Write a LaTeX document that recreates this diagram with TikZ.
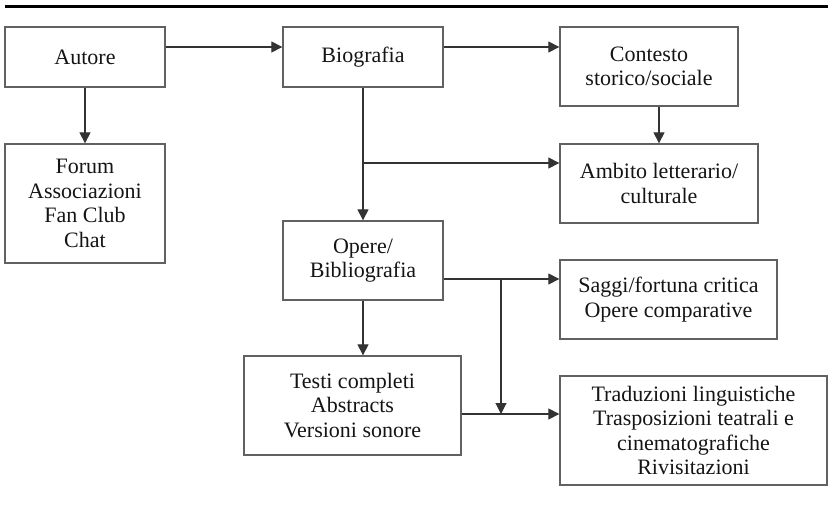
\documentclass[tikz,border=0pt]{standalone}
\usepackage{fontspec}
\setmainfont{Liberation Serif}
\usetikzlibrary{arrows.meta}
\begin{document}
\begin{tikzpicture}[x=1pt,y=-1pt,
  box/.style={draw=black!62,line width=1.3pt,inner sep=0pt,align=center,
    font=\fontsize{22}{24.5}\selectfont,text=black!92},
  arr/.style={draw=black!80,line width=1.1pt,-{Triangle[length=11pt,width=11pt]}},
  ln/.style={draw=black!80,line width=1.1pt}]
\useasboundingbox (0,0) rectangle (828,508);
\draw[line width=3pt] (5,7) -- (828,7);
\node[box,minimum width=160pt,minimum height=60pt] (autore) at (85,57) {Autore};
\node[box,minimum width=160pt,minimum height=60pt] (bio) at (363,57) {Biografia};
\node[box,minimum width=178pt,minimum height=79pt] (contesto) at (649,66.5) {Contesto\\storico/sociale};
\node[box,minimum width=160pt,minimum height=119pt] (forum) at (85,203.5) {Forum\\Associazioni\\Fan Club\\Chat};
\node[box,minimum width=198pt,minimum height=79pt] (ambito) at (659,183.5) {Ambito letterario/\\culturale};
\node[box,minimum width=160pt,minimum height=79pt] (opere) at (363,260.5) {Opere/\\Bibliografia};
\node[box,minimum width=217pt,minimum height=79pt] (saggi) at (668.5,299.5) {Saggi/fortuna critica\\Opere comparative};
\node[box,minimum width=217pt,minimum height=99pt] (testi) at (352.5,405.5) {Testi completi\\Abstracts\\Versioni sonore};
\node[box,minimum width=267pt,minimum height=109pt] (trad) at (693.5,430.5) {Traduzioni linguistiche\\Trasposizioni teatrali e\\cinematografiche\\Rivisitazioni};
\coordinate (b1) at (363,163);
\coordinate (b2) at (501,279);
\coordinate (b3) at (501,414);
\draw[arr] ([yshift=10pt]autore.east) -- ([yshift=10pt]autore.east -| bio.west);
\draw[arr] ([yshift=10pt]bio.east) -- ([yshift=10pt]bio.east -| contesto.west);
\draw[arr] (autore.south) -- (forum.north);
\draw[arr] (bio.south) -- (opere.north);
\draw[arr] (b1) -- (b1 -| ambito.west);
\draw[arr] (ambito.north |- contesto.south) -- (ambito.north);
\draw[arr] (opere.east |- b2) -- (b2 -| saggi.west);
\draw[arr] (opere.south) -- (opere.south |- testi.north);
\draw[arr] (testi.east |- b3) -- (b3 -| trad.west);
\draw[arr] (b2) -- (b3);
\end{tikzpicture}
\end{document}
